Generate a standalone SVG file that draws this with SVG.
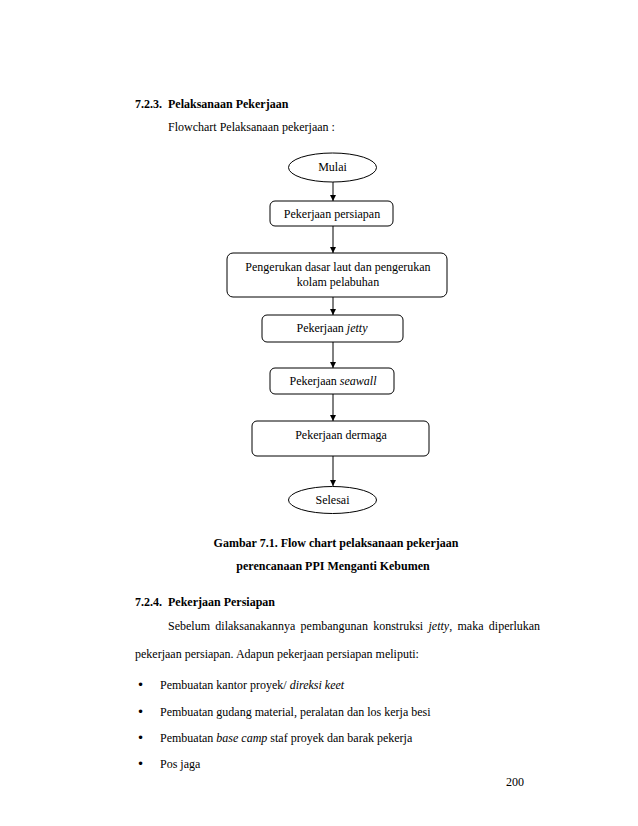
<svg xmlns="http://www.w3.org/2000/svg" width="638" height="826" viewBox="0 0 638 826">
<style>
text{font-family:"Liberation Serif","Times New Roman",serif;font-size:12px;fill:#000}
.b{font-weight:bold}
.i{font-style:italic}
.c{text-anchor:middle}
.bu{font-family:"DejaVu Sans",sans-serif;font-size:12px}
.n{fill:#fff;stroke:#000;stroke-width:1}
.e{stroke:#000;stroke-width:1;fill:none}
</style>
<defs>
<marker id="ah" viewBox="0 0 10 10" refX="10" refY="5" markerWidth="6" markerHeight="6" markerUnits="userSpaceOnUse" orient="auto">
<path d="M0,0 L10,5 L0,10 z" fill="#000"/>
</marker>
</defs>
<rect width="638" height="826" fill="#fff"/>
<text x="135" y="108" class="b">7.2.3.</text>
<text x="168" y="108" class="b">Pelaksanaan Pekerjaan</text>
<text x="168" y="131">Flowchart Pelaksanaan pekerjaan :</text>

<g id="connectors">
<line class="e" x1="333" y1="182" x2="333" y2="201" marker-end="url(#ah)"/>
<line class="e" x1="333" y1="226" x2="333" y2="253" marker-end="url(#ah)"/>
<line class="e" x1="333" y1="297" x2="333" y2="315" marker-end="url(#ah)"/>
<line class="e" x1="333" y1="342" x2="333" y2="368" marker-end="url(#ah)"/>
<line class="e" x1="333" y1="394" x2="333" y2="421" marker-end="url(#ah)"/>
<line class="e" x1="333" y1="456" x2="333" y2="486" marker-end="url(#ah)"/>
</g>

<g id="mulai">
<ellipse class="n" cx="332.5" cy="167.5" rx="44" ry="14.5"/>
<text x="332.5" y="171" class="c">Mulai</text>
</g>
<g id="persiapan">
<rect class="n" x="270" y="201" width="123" height="25" rx="5"/>
<text x="332" y="218" class="c">Pekerjaan persiapan</text>
</g>
<g id="pengerukan">
<rect class="n" x="227" y="253" width="220" height="44" rx="6"/>
<text x="338" y="271" class="c">Pengerukan dasar laut dan pengerukan</text>
<text x="338" y="286" class="c">kolam pelabuhan</text>
</g>
<g id="jetty">
<rect class="n" x="262" y="315" width="141" height="27" rx="5"/>
<text x="332" y="332" class="c">Pekerjaan <tspan class="i">jetty</tspan></text>
</g>
<g id="seawall">
<rect class="n" x="270" y="368" width="124" height="26" rx="5"/>
<text x="333" y="385" class="c">Pekerjaan <tspan class="i">seawall</tspan></text>
</g>
<g id="dermaga">
<rect class="n" x="252" y="421" width="177" height="35" rx="5"/>
<text x="341" y="439" class="c">Pekerjaan dermaga</text>
</g>
<g id="selesai">
<ellipse class="n" cx="332.5" cy="500" rx="44" ry="13.5"/>
<text x="332.5" y="504" class="c">Selesai</text>
</g>

<text x="336" y="547" class="b c">Gambar 7.1. Flow chart pelaksanaan pekerjaan</text>
<text x="333" y="570" class="b c">perencanaan PPI Menganti Kebumen</text>

<text x="135" y="606" class="b">7.2.4.</text>
<text x="168" y="606" class="b">Pekerjaan Persiapan</text>

<text y="630"><tspan x="168">Sebelum</tspan><tspan x="215.3">dilaksanakannya</tspan><tspan x="300.6">pembangunan</tspan><tspan x="373.2">konstruksi</tspan><tspan x="428.5" class="i">jetty</tspan>,<tspan x="457.5">maka</tspan><tspan x="488.8">diperlukan</tspan></text>
<text x="135" y="658">pekerjaan persiapan. Adapun pekerjaan persiapan meliputi:</text>

<text x="137" y="689" class="bu">•</text>
<text x="160" y="689">Pembuatan kantor proyek/ <tspan class="i">direksi keet</tspan></text>
<text x="137" y="716" class="bu">•</text>
<text x="160" y="716">Pembuatan gudang material, peralatan dan los kerja besi</text>
<text x="137" y="742" class="bu">•</text>
<text x="160" y="742">Pembuatan <tspan class="i">base camp</tspan> staf proyek dan barak pekerja</text>
<text x="137" y="768" class="bu">•</text>
<text x="160" y="768">Pos jaga</text>

<text x="506" y="786">200</text>
</svg>
